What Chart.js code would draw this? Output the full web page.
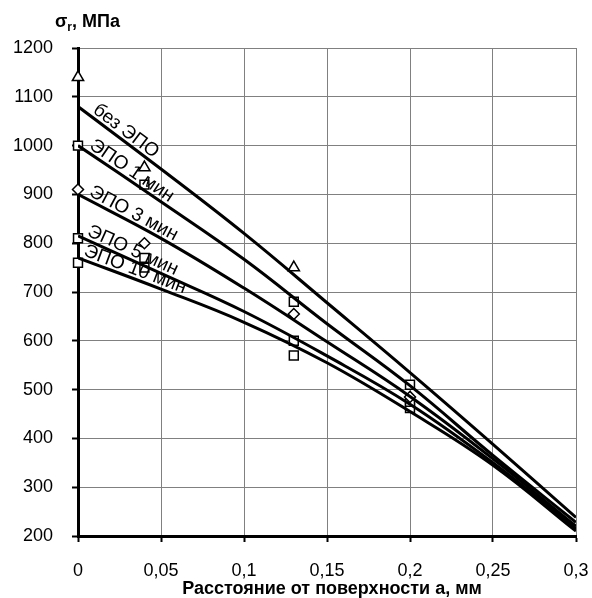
<!DOCTYPE html>
<html>
<head>
<meta charset="utf-8">
<script src="https://cdn.jsdelivr.net/npm/chart.js@4.4.1/dist/chart.umd.min.js"></script>
<style>
  html, body { margin: 0; padding: 0; background: #fff; }
</style>
</head>
<body>
<canvas id="grafico" width="592" height="598"></canvas>
<script>
// ================== DATOS ==================

// curvas (líneas de tendencia)
const xLinea = [0, 0.05, 0.1, 0.15, 0.2, 0.25, 0.3];
const lineaBez = [1080, 952, 820, 678, 535, 388, 238];
const linea1 = [1000, 885, 767, 635, 508, 365, 228];
const linea3 = [900, 810, 708, 598, 486, 358, 220];
const linea5 = [815, 738, 660, 569, 470, 350, 215];
const linea10 = [770, 706, 638, 555, 455, 345, 210];

// puntos medidos
const xPuntos = [0, 0.04, 0.13, 0.2];
const puntosBez = [1140, 955, 750];
const puntos1 = [1000, 920, 680, 510];
const puntos3 = [910, 800, 655, 485];
const puntos5 = [810, 770, 600, 475];
const puntos10 = [760, 750, 570, 462];

// textos de las curvas
const nombres = ['без ЭПО', 'ЭПО 1 мин', 'ЭПО 3 мин', 'ЭПО 5 мин', 'ЭПО 10 мин'];
const inicioTexto = [0.007, 0.005, 0.005, 0.004, 0.002];

const yTicks = [200, 300, 400, 500, 600, 700, 800, 900, 1000, 1100, 1200];

const FUENTE = '"Liberation Sans", Arial, sans-serif';
const lineas = [lineaBez, linea1, linea3, linea5, linea10];

function pares(xs, ys) {
    return ys.map((v, i) => ({ x: xs[i], y: v }));
}

function linea(ys) {
    return {
        type: 'line',
        data: pares(xLinea, ys),
        borderColor: '#000',
        borderWidth: 3,
        pointRadius: 0,
        tension: 0.4,
        fill: false
    };
}

function puntos(ys, estilo, r) {
    return {
        type: 'scatter',
        data: pares(xPuntos, ys),
        pointStyle: estilo,
        pointRadius: r,
        pointBorderColor: '#000',
        pointBackgroundColor: '#fff',
        pointBorderWidth: 1.5,
        clip: false
    };
}

// ================== TEXTOS ==================

const textos = {
    id: 'textos',
    afterDatasetsDraw(chart) {
        const c = chart.ctx;
        const sx = chart.scales.x, sy = chart.scales.y;
        c.save();
        c.fillStyle = '#000';
        c.font = '19px ' + FUENTE;
        c.textAlign = 'left';
        c.textBaseline = 'alphabetic';
        lineas.forEach((l, i) => {
            const x0 = sx.getPixelForValue(xLinea[0]), y0 = sy.getPixelForValue(l[0]);
            const x1 = sx.getPixelForValue(xLinea[1]), y1 = sy.getPixelForValue(l[1]);
            const ang = Math.atan2(y1 - y0, x1 - x0);
            const t = inicioTexto[i] / (xLinea[1] - xLinea[0]);
            c.save();
            c.translate(x0 + (x1 - x0) * t, y0 + (y1 - y0) * t);
            c.rotate(ang);
            c.fillText(nombres[i], 0, -4);
            c.restore();
        });
        c.restore();
    },
    afterDraw(chart) {
        const c = chart.ctx;
        const a = chart.chartArea;
        c.save();
        c.fillStyle = '#000';
        // titulo eje y
        c.textBaseline = 'alphabetic';
        c.textAlign = 'left';
        c.font = 'bold 18px ' + FUENTE;
        let x = 55;
        c.fillText('σ', x, 27);
        x += c.measureText('σ').width;
        c.font = 'bold 12px ' + FUENTE;
        c.fillText('r', x, 31);
        x += c.measureText('r').width;
        c.font = 'bold 18px ' + FUENTE;
        c.fillText(', МПа', x, 27);
        // titulo eje x
        c.textAlign = 'center';
        c.fillText('Расстояние от поверхности а, мм', (a.left + a.right) / 2 + 5, 594);
        c.restore();
    }
};

// ================== GRÁFICO ==================

const ctx = document.getElementById('grafico');

const grafico = new Chart(ctx, {
    data: {
        datasets: [
            linea(lineaBez),
            linea(linea1),
            linea(linea3),
            linea(linea5),
            linea(linea10),
            puntos(puntosBez, 'triangle', 6.5),
            puntos(puntos1, 'rect', 6.3),
            puntos(puntos3, 'rectRot', 5.5),
            puntos(puntos5, 'rect', 6.3),
            puntos(puntos10, 'rect', 6.3)
        ]
    },
    plugins: [textos],
    options: {
        responsive: false,
        animation: false,
        layout: { padding: { top: 48, right: 16, left: 0, bottom: 0 } },
        plugins: {
            legend: { display: false },
            tooltip: { enabled: false }
        },
        scales: {
            x: {
                type: 'linear',
                min: 0,
                max: 0.3,
                afterFit: s => { s.height = 62; s.paddingLeft = 0; s.paddingRight = 0; },
                ticks: {
                    stepSize: 0.05,
                    color: '#000',
                    padding: 18,
                    maxRotation: 0,
                    font: { family: FUENTE, size: 18 },
                    callback: v => String(+v.toFixed(2)).replace('.', ',')
                },
                grid: {
                    color: '#808080',
                    lineWidth: 1,
                    tickColor: '#000',
                    tickLength: 6,
                    tickWidth: 2
                },
                border: { color: '#000', width: 3 }
            },
            y: {
                min: 200,
                max: 1200,
                afterFit: s => { s.width = 78; s.paddingTop = 0; s.paddingBottom = 0; },
                afterBuildTicks: s => { s.ticks = yTicks.map(v => ({ value: v })); },
                ticks: {
                    color: '#000',
                    padding: 19,
                    font: { family: FUENTE, size: 18 },
                    callback: v => String(v)
                },
                grid: {
                    color: '#808080',
                    lineWidth: 1,
                    tickColor: '#000',
                    tickLength: 6,
                    tickWidth: 2
                },
                border: { color: '#000', width: 3 }
            }
        }
    }
});
</script>
</body>
</html>
